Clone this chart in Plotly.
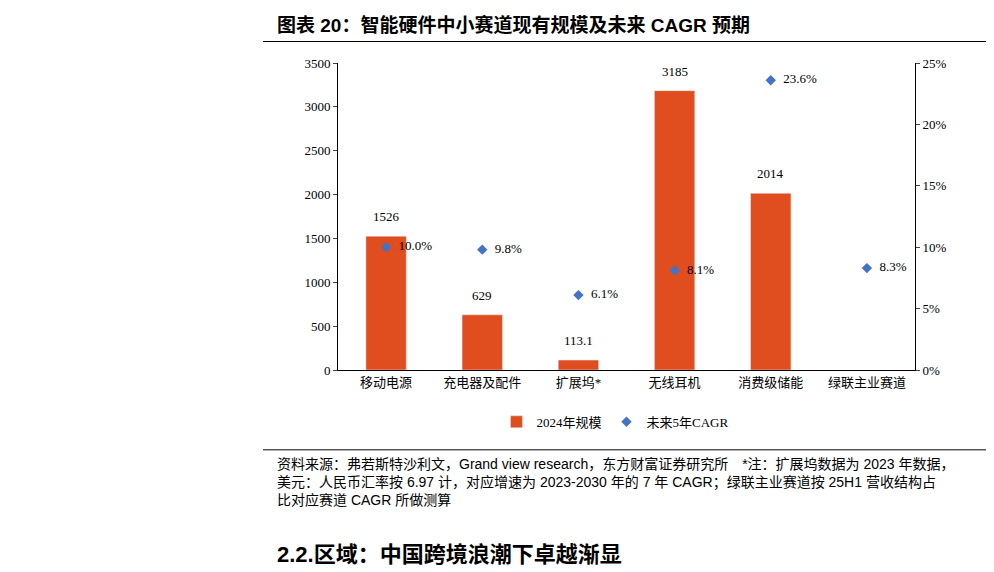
import plotly.graph_objects as go

categories = ["移动电源", "充电器及配件", "扩展坞*", "无线耳机", "消费级储能", "绿联主业赛道"]
scale_2024 = [1526, 629, 113.1, 3185, 2014, None]
cagr = [10.0, 9.8, 6.1, 8.1, 23.6, 8.3]

serif = "Liberation Serif, Noto Sans CJK SC"
sans = "Liberation Sans, Noto Sans CJK SC"

fig = go.Figure()
fig.add_trace(go.Bar(
    x=categories, y=scale_2024, name="2024年规模",
    marker_color="#E04E1F", width=0.42,
))
fig.add_trace(go.Scatter(
    x=categories, y=cagr, name="未来5年CAGR", yaxis="y2", mode="markers+text",
    marker=dict(symbol="diamond", size=8, color="#4472C4"),
    text=[f"  {v:.1f}%" for v in cagr], textposition="middle right",
    textfont=dict(size=13, color="#000", family=serif),
))

# bar value labels, a little above each bar
for c, v in zip(categories, scale_2024):
    if v is not None:
        fig.add_annotation(x=c, y=v, text=f"{v:g}", showarrow=False, yanchor="bottom",
                           yshift=10, font=dict(size=13, family=serif, color="#000"))

fig.update_layout(
    width=994, height=572, plot_bgcolor="white", paper_bgcolor="white",
    margin=dict(l=330, r=87, t=55, b=210, autoexpand=False),
    font=dict(family=serif, size=12, color="#000"),
    bargap=0.5,
    xaxis=dict(showline=True, linecolor="#000", ticks="", tickfont=dict(size=13)),
    yaxis=dict(range=[0, 3500], dtick=500, showline=True, linecolor="#000",
               ticks="outside", ticklen=4, showgrid=False, tickfont=dict(size=13)),
    yaxis2=dict(range=[0, 25], dtick=5, overlaying="y", side="right", showline=True,
                linecolor="#000", ticks="outside", ticklen=4, ticksuffix="%",
                showgrid=False, tickfont=dict(size=13)),
    legend=dict(orientation="h", x=0.48, xanchor="center", y=-0.12, yanchor="top",
                font=dict(size=13), itemwidth=30),
    showlegend=True,
)

fig.add_annotation(xref="paper", yref="paper", x=-0.109, y=1.125, xanchor="left", yanchor="middle",
                   text="<b>图表 20：智能硬件中小赛道现有规模及未来 CAGR 预期</b>", showarrow=False,
                   font=dict(family=sans, size=19, color="#000"))
fig.add_shape(type="line", xref="paper", yref="paper", x0=-0.13, x1=1.147, y0=1.07, y1=1.07,
              line=dict(color="#000", width=1))
fig.add_shape(type="line", xref="paper", yref="paper", x0=-0.13, x1=1.147, y0=-0.26, y1=-0.26,
              line=dict(color="#000", width=1))
fig.add_annotation(xref="paper", yref="paper", x=-0.11, y=-0.272, xanchor="left", yanchor="top", align="left",
                   text="资料来源：弗若斯特沙利文，Grand view research，东方财富证券研究所　*注：扩展坞数据为 2023 年数据，<br>"
                        "美元：人民币汇率按 6.97 计，对应增速为 2023-2030 年的 7 年 CAGR；绿联主业赛道按 25H1 营收结构占<br>"
                        "比对应赛道 CAGR 所做测算",
                   showarrow=False, font=dict(family=sans, size=14, color="#000"))
fig.add_annotation(xref="paper", yref="paper", x=-0.11, y=-0.6, xanchor="left", yanchor="middle",
                   text="<b>2.2.区域：中国跨境浪潮下卓越渐显</b>", showarrow=False,
                   font=dict(family=sans, size=22, color="#000"))

fig.write_html("out.html")
